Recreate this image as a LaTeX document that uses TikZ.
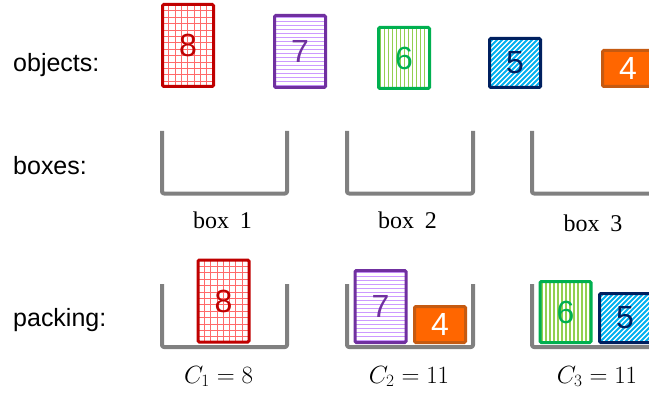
\documentclass[tikz,border=0pt]{standalone}
\usepackage{fontspec}
\setmainfont{Liberation Serif}
\setsansfont{Liberation Sans}
\definecolor{dred}{HTML}{C00000}
\definecolor{lred}{HTML}{FF6A6A}
\definecolor{dpurple}{HTML}{7030A0}
\definecolor{lpurple}{HTML}{CC99FF}
\definecolor{dgreen}{HTML}{00B050}
\definecolor{lgreen}{HTML}{92D050}
\definecolor{navy}{HTML}{002060}
\definecolor{lblue}{HTML}{00B0F0}
\definecolor{orng}{HTML}{FF6600}
\definecolor{dorng}{HTML}{C55A11}
\definecolor{boxgray}{HTML}{808080}
\tikzset{
  obj/.style={draw, line width=3pt, rounded corners=1.2pt, inner sep=0pt,
    minimum width=51pt, font=\sffamily\fontsize{32}{32}\selectfont},
  gridfill/.style={path picture={
    \foreach \i in {1,...,16} {
      \draw[lred, line width=0.8pt] ([xshift=\i*6.3pt]path picture bounding box.north west) -- ([xshift=\i*6.3pt]path picture bounding box.south west);
      \draw[lred, line width=0.8pt] ([yshift=-\i*6.4pt]path picture bounding box.north west) -- ([yshift=-\i*6.4pt]path picture bounding box.north east);
    }}},
  hfill/.style={path picture={
    \foreach \i in {0,...,22} {
      \draw[lpurple, line width=1.8pt] ([yshift=-\i*4pt-2pt]path picture bounding box.north west) -- ([yshift=-\i*4pt-2pt]path picture bounding box.north east);
    }}},
  vfill/.style={path picture={
    \foreach \i in {0,...,16} {
      \draw[lgreen, line width=1.8pt] ([xshift=\i*4pt+2pt]path picture bounding box.north west) -- ([xshift=\i*4pt+2pt]path picture bounding box.south west);
    }}},
  dfill/.style={path picture={
    \foreach \i in {-14,...,14} {
      \draw[lblue, line width=1.9pt] ([xshift=\i*5pt]path picture bounding box.south west) -- ++(70pt,70pt);
    }}},
  box8/.style={obj, draw=dred, text=dred, gridfill, minimum height=82pt},
  box7/.style={obj, draw=dpurple, text=dpurple, hfill, minimum height=72pt},
  box6/.style={obj, draw=dgreen, text=dgreen, vfill, minimum height=61pt},
  box5/.style={obj, draw=navy, text=navy, dfill, minimum height=49pt},
  box4/.style={obj, draw=dorng, fill=orng, text=white, minimum height=36pt},
  bin/.style={draw=boxgray, line width=4pt, line join=round, rounded corners=2pt},
  rowlabel/.style={anchor=base west, inner sep=0pt, font=\sffamily\fontsize{25}{30}\selectfont},
  binlabel/.style={anchor=base, inner sep=0pt, font=\fontsize{24}{28}\selectfont},
  costlabel/.style={anchor=base, inner sep=0pt, font=\fontsize{24.5}{28}\selectfont},
}
\begin{document}
\begin{tikzpicture}[x=1pt,y=-1pt]
\useasboundingbox (0,0) rectangle (649,396);
\clip (0,0) rectangle (649,396);
\fill[white] (0,0) rectangle (649,396);

% row labels
\node[rowlabel] (lobj) at (13,72) {objects:};
\node[rowlabel] (lbox) at (13,175) {boxes:};
\node[rowlabel] (lpack) at (13,326) {packing:};

% objects
\node[box8] (o8) at (188,45.5) {8};
\node[box7] (o7) at (300,51.5) {7};
\node[box6] (o6) at (404,58) {6};
\node[box5] (o5) at (515,63) {5};
\node[box4] (o4) at (628,68.5) {4};

% empty boxes
\draw[bin] (162,131) -- (162,193.5) -- (287,193.5) -- (287,131);
\draw[bin] (347,131) -- (347,193.5) -- (473,193.5) -- (473,131);
\draw[bin] (532,131) -- (532,193.5) -- (657,193.5) -- (657,131);
\node[binlabel] (b1) at (222.5,228) {box\hspace{0.45em}1};
\node[binlabel] (b2) at (407.5,228) {box\hspace{0.45em}2};
\node[binlabel] (b3) at (593,231) {box\hspace{0.45em}3};

% packing boxes
\draw[bin] (162,284) -- (162,347) -- (287,347) -- (287,284);
\draw[bin] (347,284) -- (347,347) -- (473,347) -- (473,284);
\draw[bin] (532,284) -- (532,347) -- (657,347) -- (657,284);

\node[box8] (p8) at (223.5,301) {8};
\node[box7] (p7) at (380.5,306.5) {7};
\node[box4] (p4) at (440,324.5) {4};
\node[box6] (p6) at (565.5,312) {6};
\node[box5] (p5) at (625,318) {5};

\node[costlabel] (c1) at (218.5,383) {$C_1 = 8$};
\node[costlabel] (c2) at (409,383) {$C_2 = 11$};
\node[costlabel] (c3) at (597,383) {$C_3 = 11$};
\end{tikzpicture}
\end{document}
